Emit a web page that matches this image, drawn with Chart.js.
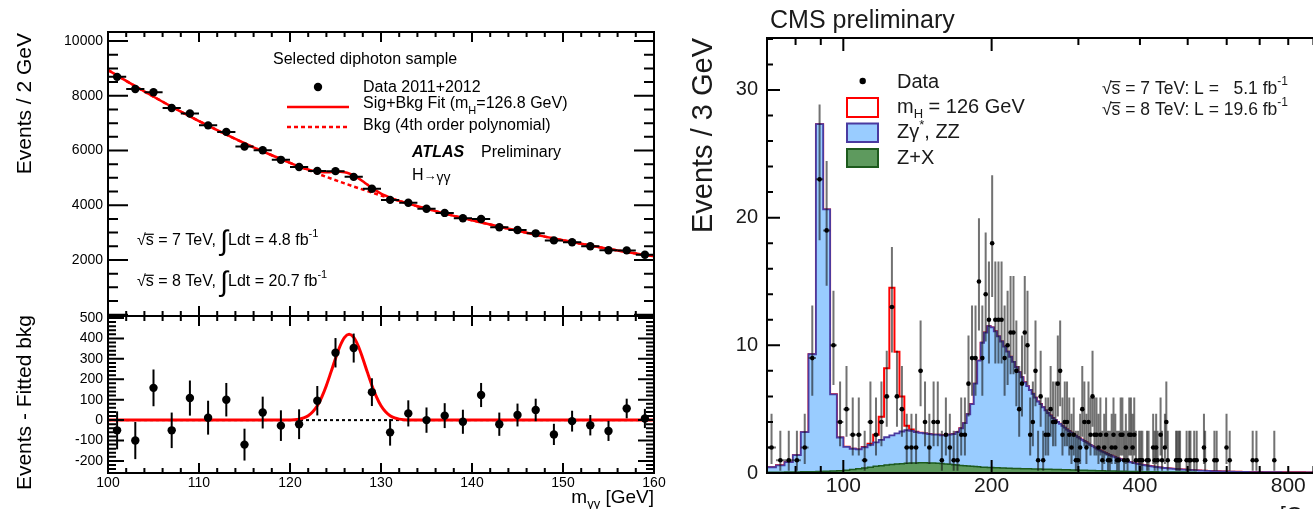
<!DOCTYPE html>
<html>
<head>
<meta charset="utf-8">
<script src="https://cdn.jsdelivr.net/npm/chart.js@4/dist/chart.umd.min.js"></script>
<style>
  html, body { margin: 0; padding: 0; background: #fff; overflow: hidden; width: 1313px; height: 509px; }
  canvas { position: absolute; }
  #atlasTop { left: 0; top: 0; }
  #atlasRes { left: 0; top: 300px; }
  #cms { left: 680px; top: 0; }
</style>
</head>
<body>
<canvas id="atlasTop" width="670" height="340"></canvas>
<canvas id="atlasRes" width="670" height="209"></canvas>
<canvas id="cms" width="680" height="509"></canvas>
<script>
const FONT = '"Liberation Sans", Arial, Helvetica, sans-serif';

// ---------------- ATLAS H -> gamma gamma ----------------
const atlasMassTicks = [100, 110, 120, 130, 140, 150, 160];
const atlasEventTicks = [2000, 4000, 6000, 8000, 10000];
const atlasResidualTicks = [-200, -100, 0, 100, 200, 300, 400, 500];

// 2 GeV bins, centres
const diphotonMass = [101,103,105,107,109,111,113,115,117,119,121,123,125,127,129,131,133,135,137,139,141,143,145,147,149,151,153,155,157,159];
const diphotonEvents = [8690,8248,8126,7550,7354,6918,6680,6148,6007,5659,5396,5255,5246,5037,4601,4196,4093,3874,3720,3524,3497,3198,3093,2974,2716,2649,2503,2355,2351,2194];
const diphotonErrors = [93,91,90,87,86,83,82,78,78,75,73,72,72,71,68,65,64,62,61,59,59,57,56,55,52,51,50,49,48,47];
const residualEvents = [-50,-100,158,-50,108,12,100,-120,37,-27,-20,95,330,353,137,-60,33,0,22,-8,123,-20,25,50,-70,-5,-25,-53,57,8];

// background-only polynomial
const bkgMass = [100,102,104,106,108,110,112,114,116,118,120,122,124,126,128,130,132,134,136,138,140,142,144,146,148,150,152,154,156,158,160];
const bkgEvents = [8940,8542,8156,7782,7421,7074,6741,6422,6117,5826,5549,5286,5036,4798,4572,4358,4156,3965,3784,3613,3451,3295,3142,2995,2854,2719,2590,2466,2350,2239,2134];

// signal + background fit
const fitMass = [100,102,104,106,108,110,112,114,116,118,120,121,121.5,122,122.5,123,123.5,124,124.5,125,125.5,126,126.5,127,127.5,128,128.5,129,129.5,130,130.5,131,131.5,132,134,136,138,140,142,144,146,148,150,152,154,156,158,160];
const fitEvents = [8940,8542,8156,7782,7421,7074,6741,6422,6117,5826,5550,5421,5362,5308,5264,5230,5212,5206,5211,5218,5220,5203,5161,5089,4991,4874,4753,4634,4525,4428,4348,4278,4217,4161,3965,3784,3613,3451,3295,3142,2995,2854,2719,2590,2466,2350,2239,2134];

// fitted signal component (residual panel)
const signalMass = [100,119,119.5,120,120.5,121,121.5,122,122.5,123,123.5,124,124.5,125,125.5,126,126.5,127,127.5,128,128.5,129,129.5,130,130.5,131,131.5,132,132.5,133,133.5,134,160];
const signalEvents = [0,0,0.5,1,2,5,11,22,41,70,114,170,235,302,363,405,420,405,363,302,235,170,114,70,41,22,11,5,2,1,0.5,0,0];

// ---------------- CMS H -> ZZ -> 4l ----------------
const m4lFirstEdge = 70;
const m4lBinWidth = 3;
const m4lTicks = [100, 200, 400, 800];
const m4lMinorTicks = [80, 90, 300, 500, 600, 700, 800, 900, 400];
const cmsEventTicks = [0, 10, 20, 30];

const zzCounts = [
  0.40,0.54,0.78,1.32,3.11,9.2,27.2,20.5,6.0,2.6,
  1.83,1.62,1.51,1.6,1.74,1.88,2.03,2.18,2.29,2.4,
  2.52,2.59,2.52,2.41,2.35,2.3,2.26,2.22,2.24,2.21,
  2.24,2.32,2.4,2.58,2.91,3.34,4.06,4.88,6.5,8.32,
  9.74,10.55,11.06,10.97,10.68,10.29,9.9,9.51,9.12,8.73,
  8.34,7.95,7.55,7.16,6.76,6.47,6.17,5.88,5.58,5.29,
  5.09,4.85,4.6,4.41,4.21,4.02,3.87,3.73,3.58,3.44,
  3.29,3.15,3.03,2.92,2.8,2.69,2.57,2.48,2.38,2.29,
  2.19,2.1,2.0,1.91,1.81,1.74,1.66,1.58,1.51,1.44,
  1.38,1.31,1.25,1.2,1.14,1.08,1.04,0.99,0.94,0.9,
  0.86,0.82,0.79,0.75,0.72,0.69,0.67,0.64,0.61,0.58,
  0.57,0.54,0.52,0.5,0.48,0.47,0.45,0.43,0.41,0.39,
  0.38,0.36,0.36,0.35,0.33,0.32,0.31,0.3,0.29,0.28,
  0.27,0.26,0.26,0.25,0.24,0.23,0.22,0.22,0.21,0.2,
  0.2,0.19,0.18,0.18,0.18,0.18,0.17,0.16,0.16,0.15,
  0.2,0.2,0.19,0.19,0.18,0.18,0.18,0.17,0.17,0.16,
  0.16,0.16,0.15,0.15,0.15,0.14,0.14,0.14,0.13,0.13,
  0.13,0.12,0.12,0.12,0.12,0.11,0.11,0.11,0.11,0.1,
  0.1,0.1,0.1,0.1,0.09,0.09,0.09,0.09,0.09,0.09,
  0.09,0.08,0.08,0.08,0.08,0.08,0.08,0.08,0.07,0.07,
  0.07,0.07,0.07,0.07,0.07,0.07,0.07,0.07,0.07,0.07,
  0.07,0.07,0.07,0.06,0.06,0.06,0.06,0.06,0.06,0.06,
  0.06,0.06,0.06,0.06,0.06,0.06,0.06,0.06,0.06,0.06,
  0.06,0.06,0.06,0.06,0.06,0.05,0.05,0.05,0.05,0.05,
  0.05,0.05,0.05,0.05,0.05,0.05,0.05,0.05,0.05,0.05,
  0.05,0.05,0.05,0.05,0.05,0.05,0.05,0.05,0.05,0.05,
  0.05,0.05,0.05,0.05,0.05,0.04,0.04,0.04,0.04,0.04,
  0.04,0.04,0.04,0.04,0.04,0.04,0.04,0.04,0.04,0.04,
  0.04,0.04,0.04,0.04,0.04,0.04,0.04,0.04,0.04,0.04,
  0.04,0.04,0.04,0.04,0.04,0.04,0.04,0.04,0.04,0.04,
  0.04,0.04,0.04,0.04,0.04,0.04,0.04,0.04,0.04,0.04
];
const zxCounts = [
  0.05,0.06,0.07,0.08,0.09,0.1,0.12,0.14,0.16,0.18,
  0.22,0.28,0.34,0.4,0.46,0.52,0.57,0.62,0.66,0.7,
  0.73,0.76,0.78,0.79,0.8,0.8,0.79,0.78,0.76,0.74,
  0.71,0.68,0.65,0.62,0.59,0.56,0.54,0.52,0.5,0.48,
  0.46,0.45,0.44,0.43,0.42,0.41,0.4,0.39,0.38,0.37,
  0.36,0.35,0.35,0.34,0.34,0.33,0.33,0.32,0.32,0.31,
  0.31,0.3,0.3,0.29,0.29,0.28,0.28,0.27,0.27,0.26,
  0.26,0.25,0.25,0.24,0.24,0.23,0.23,0.22,0.22,0.21,
  0.21,0.2,0.2,0.19,0.19,0.18,0.18,0.18,0.17,0.17,
  0.16,0.16,0.16,0.15,0.15,0.15,0.14,0.14,0.14,0.13,
  0.13,0.13,0.12,0.12,0.12,0.12,0.11,0.11,0.11,0.11,
  0.1,0.1,0.1,0.1,0.1,0.09,0.09,0.09,0.09,0.09,
  0.09,0.09,0.08,0.08,0.08,0.08,0.08,0.08,0.08,0.08,
  0.08,0.08,0.07,0.07,0.07,0.07,0.07,0.07,0.07,0.07,
  0.07,0.07,0.07,0.07,0.06,0.06,0.06,0.06,0.06,0.06
];
const higgsCounts = [0,0,0,0,0,0,0,0,0,0,0,0,0,0.03,0.1,0.6,1.8,5.4,11.55,6.4,2.75,0.35,0.1,0.03];
const dataCounts = [
  2,1,1,1,2,9,23,19,10,4,
  5,3,3,1,4,3,4,6,13,6,
  5,2,2,2,8,4,2,4,4,1,
  3,2,1,1,3,3,7,9,9,15,
  9,14,12,18,12,12,12,9,10,11,
  11,8,5,7,11,10,3,4,8,1,
  6,1,3,3,5,4,4,7,8,3,
  4,4,3,2,3,1,1,2,5,4,
  2,4,3,6,3,3,2,3,1,2,
  3,1,1,2,3,2,1,1,3,3,
  1,2,1,3,3,2,3,1,0,1,
  1,1,0,0,1,1,0,0,2,1,
  2,1,0,3,1,0,2,4,1,0,
  0,0,0,0,1,1,1,1,0,0,
  0,0,1,0,1,1,0,0,1,0,
  1,0,0,0,0,0,2,1,0,0,
  0,0,0,0,0,1,0,1,0,0,
  0,0,0,0,0,0,2,0,0,1,
  0,0,0,0,0,0,0,0,0,0,
  0,0,0,0,0,0,0,0,0,0,
  0,0,1,0,0,0,1,0,0,0,
  0,0,0,0,0,0,0,0,0,0,
  0,0,0,0,0,0,1,0,0,0
];
// 68% central Poisson intervals for the observed counts
const poissonLow  = [0,0.173,0.708,1.367,2.086,2.840,3.620,4.419,5.232,6.057,6.891,7.734,8.585,9.441,10.30,11.17,12.04,12.91,13.79,14.67,15.55,16.44,17.33,18.22];
const poissonHigh = [1.841,3.300,4.638,5.918,7.163,8.382,9.584,10.77,11.95,13.11,14.27,15.42,16.56,17.70,18.83,19.96,21.08,22.20,23.32,24.44,25.55,26.66,27.76,28.87];

// ---------------- helpers ----------------
function fontOf(p, base) {
  return (p.style || 'normal') + ' ' + (p.weight || 'normal') + ' ' + (p.size || base) + 'px ' + (p.family || FONT);
}
function drawRich(ctx, x, y, parts, opt) {
  opt = opt || {};
  const base = opt.size || 16;
  const color = opt.color || '#000';
  parts = parts.map(p => typeof p === 'string' ? { t: p } : p);
  let total = 0;
  for (const p of parts) { ctx.font = fontOf(p, base); total += ctx.measureText(p.t).width + (p.gap || 0); }
  let cx = opt.align === 'right' ? x - total : x;
  ctx.save();
  ctx.textAlign = 'left';
  ctx.textBaseline = 'middle';
  ctx.fillStyle = color;
  ctx.strokeStyle = color;
  for (const p of parts) {
    ctx.font = fontOf(p, base);
    const w = ctx.measureText(p.t).width;
    ctx.fillText(p.t, cx, y + (p.dy || 0));
    if (p.over) {
      const s = p.size || base;
      ctx.lineWidth = 1.2;
      ctx.beginPath();
      ctx.moveTo(cx - 1, y - s * 0.42);
      ctx.lineTo(cx + w, y - s * 0.42);
      ctx.stroke();
    }
    cx += w + (p.gap || 0);
  }
  ctx.restore();
}
function drawVertical(ctx, x, yEnd, text, size, color) {
  ctx.save();
  ctx.translate(x, yEnd);
  ctx.rotate(-Math.PI / 2);
  ctx.font = 'normal normal ' + size + 'px ' + FONT;
  ctx.fillStyle = color || '#000';
  ctx.textAlign = 'right';
  ctx.textBaseline = 'middle';
  ctx.fillText(text, 0, 0);
  ctx.restore();
}
function tickFramePlugin(spec) {
  return {
    id: 'tickFrame',
    afterDraw(chart) {
      const { ctx, chartArea: a } = chart;
      const sx = chart.scales.x, sy = chart.scales.y;
      ctx.save();
      ctx.strokeStyle = '#000';
      ctx.lineWidth = spec.frameWidth;
      ctx.strokeRect(a.left, a.top, a.right - a.left, a.bottom - a.top);
      ctx.lineWidth = spec.tickWidth;
      ctx.beginPath();
      for (const [v, len] of spec.xTicks) {
        const p = sx.getPixelForValue(v);
        if (p < a.left - 0.5 || p > a.right + 0.5) continue;
        ctx.moveTo(p, a.bottom); ctx.lineTo(p, a.bottom - len);
        ctx.moveTo(p, a.top); ctx.lineTo(p, a.top + len);
      }
      for (const [v, len] of spec.yTicks) {
        const p = sy.getPixelForValue(v);
        if (p < a.top - 0.5 || p > a.bottom + 0.5) continue;
        ctx.moveTo(a.left, p); ctx.lineTo(a.left + len, p);
        ctx.moveTo(a.right, p); ctx.lineTo(a.right - len, p);
      }
      ctx.stroke();
      ctx.restore();
    }
  };
}
function errorBarPlugin(datasetIndex, bars, style) {
  return {
    id: 'errorBars',
    beforeDatasetDraw(chart, args) {
      if (args.index !== datasetIndex) return;
      const { ctx, chartArea: a } = chart;
      const sx = chart.scales.x, sy = chart.scales.y;
      ctx.save();
      ctx.beginPath();
      ctx.rect(a.left, a.top, a.right - a.left, a.bottom - a.top);
      ctx.clip();
      ctx.strokeStyle = style.color;
      ctx.lineWidth = style.width;
      for (const b of bars) {
        const px = sx.getPixelForValue(b.x);
        const py = sy.getPixelForValue(b.y);
        ctx.beginPath();
        if (b.yLo !== undefined) {
          ctx.moveTo(px, sy.getPixelForValue(b.yLo));
          ctx.lineTo(px, sy.getPixelForValue(b.yHi));
        }
        if (b.xLo !== undefined) {
          ctx.moveTo(sx.getPixelForValue(b.xLo), py);
          ctx.lineTo(sx.getPixelForValue(b.xHi), py);
        }
        ctx.stroke();
      }
      ctx.restore();
    }
  };
}
function pairs(xs, ys) { return xs.map((x, i) => ({ x: x, y: ys[i] })); }
function plainTicks(list) { return s => { s.ticks = list.map(v => ({ value: v })); }; }

// tick-mark lists (inside the frame)
const atlasXMarks = [];
for (let v = 100; v <= 160; v += 2) atlasXMarks.push([v, v % 10 === 0 ? 10 : 5]);
const atlasYMarks = [];
for (let v = 0; v <= 10000; v += 500) atlasYMarks.push([v, v % 2000 === 0 ? 20 : 10]);
const atlasResMarks = [];
for (let v = -240; v <= 500; v += 20) atlasResMarks.push([v, v % 100 === 0 ? 16 : 8]);
const cmsXMarks = m4lMinorTicks.map(v => [v, 7]).concat([[100, 13], [200, 13]]);
const cmsYMarks = [];
for (let v = 0; v <= 34; v += 2) cmsYMarks.push([v, v % 10 === 0 ? 13 : 6]);

const commonOpts = {
  responsive: false,
  animation: false,
  devicePixelRatio: 1,
  plugins: { legend: { display: false }, tooltip: { enabled: false } }
};

// ---------------- ATLAS upper panel ----------------
const atlasTopText = {
  id: 'atlasTopText',
  afterDraw(chart) {
    const ctx = chart.ctx;
    drawVertical(ctx, 25, 33, 'Events / 2 GeV', 21, '#000');
    drawRich(ctx, 273, 60, ['Selected diphoton sample'], { size: 16 });
    ctx.save();
    ctx.fillStyle = '#000';
    ctx.beginPath(); ctx.arc(318, 87, 4.2, 0, Math.PI * 2); ctx.fill();
    ctx.strokeStyle = '#ff0000'; ctx.lineWidth = 2.5;
    ctx.beginPath(); ctx.moveTo(287, 107); ctx.lineTo(349, 107); ctx.stroke();
    ctx.setLineDash([4, 3]);
    ctx.beginPath(); ctx.moveTo(287, 127); ctx.lineTo(349, 127); ctx.stroke();
    ctx.restore();
    drawRich(ctx, 363, 88, ['Data 2011+2012'], { size: 16 });
    drawRich(ctx, 363, 104, ['Sig+Bkg Fit (m', { t: 'H', size: 11, dy: 7 }, '=126.8 GeV)'], { size: 16 });
    drawRich(ctx, 363, 126, ['Bkg (4th order polynomial)'], { size: 16 });
    drawRich(ctx, 412, 153, [{ t: 'ATLAS', style: 'italic', weight: 'bold' }], { size: 16 });
    drawRich(ctx, 481, 153, ['Preliminary'], { size: 16 });
    drawRich(ctx, 412, 176, ['H', { t: '\u2192', size: 13 }, { t: '\u03b3\u03b3', size: 14, dy: 2 }], { size: 16 });
    drawRich(ctx, 137, 241, ['\u221a', { t: 's', over: true }, ' = 7 TeV, ', { t: '\u222b', size: 28, dy: 1 }, 'Ldt = 4.8 fb', { t: '-1', size: 11, dy: -7 }], { size: 16 });
    drawRich(ctx, 137, 282, ['\u221a', { t: 's', over: true }, ' = 8 TeV, ', { t: '\u222b', size: 28, dy: 1 }, 'Ldt = 20.7 fb', { t: '-1', size: 11, dy: -7 }], { size: 16 });
  }
};

new Chart(document.getElementById('atlasTop'), {
  type: 'scatter',
  data: {
    datasets: [
      { type: 'line', label: 'Bkg (4th order polynomial)', data: pairs(bkgMass, bkgEvents),
        borderColor: '#ff0000', borderWidth: 2.5, borderDash: [4, 3], pointRadius: 0,
        cubicInterpolationMode: 'monotone', order: 2 },
      { type: 'line', label: 'Sig+Bkg Fit', data: pairs(fitMass, fitEvents),
        borderColor: '#ff0000', borderWidth: 2.5, pointRadius: 0,
        cubicInterpolationMode: 'monotone', order: 1 },
      { type: 'scatter', label: 'Data 2011+2012', data: pairs(diphotonMass, diphotonEvents),
        pointRadius: 4.2, pointBackgroundColor: '#000', pointBorderWidth: 0, order: 0 }
    ]
  },
  options: Object.assign({}, commonOpts, {
    layout: { padding: { left: 0, right: 16, top: 32, bottom: 24 } },
    scales: {
      x: { type: 'linear', min: 100, max: 160, display: false },
      y: { type: 'linear', min: -46, max: 10329, position: 'left',
           afterFit(s) { s.width = 108; },
           afterBuildTicks: plainTicks(atlasEventTicks),
           grid: { display: false, drawTicks: false }, border: { display: false },
           ticks: { font: { family: FONT, size: 14 }, color: '#000', padding: 5, callback: v => String(v) } }
    }
  }),
  plugins: [
    errorBarPlugin(2, diphotonMass.map((m, i) => ({ x: m, y: diphotonEvents[i], xLo: m - 1, xHi: m + 1,
      yLo: diphotonEvents[i] - diphotonErrors[i], yHi: diphotonEvents[i] + diphotonErrors[i] })), { color: '#000', width: 2 }),
    tickFramePlugin({ frameWidth: 2, tickWidth: 2, xTicks: atlasXMarks, yTicks: atlasYMarks }),
    atlasTopText
  ]
});

// ---------------- ATLAS residual panel ----------------
const atlasResText = {
  id: 'atlasResText',
  afterDraw(chart) {
    const ctx = chart.ctx;
    drawVertical(ctx, 25, 15, 'Events - Fitted bkg', 21, '#000');
    drawRich(ctx, 654, 198, ['m', { t: '\u03b3\u03b3', size: 13, dy: 6 }, ' [GeV]'], { size: 19, align: 'right' });
  }
};

new Chart(document.getElementById('atlasRes'), {
  type: 'scatter',
  data: {
    datasets: [
      { type: 'line', label: 'Bkg', data: [{ x: 100, y: 0 }, { x: 160, y: 0 }],
        borderColor: '#000', borderWidth: 2, borderDash: [3, 3], pointRadius: 0, order: 2 },
      { type: 'line', label: 'Sig+Bkg Fit', data: pairs(signalMass, signalEvents),
        borderColor: '#ff0000', borderWidth: 3, pointRadius: 0,
        cubicInterpolationMode: 'monotone', order: 1 },
      { type: 'scatter', label: 'Data - Bkg', data: pairs(diphotonMass, residualEvents),
        pointRadius: 4.2, pointBackgroundColor: '#000', pointBorderWidth: 0, order: 0 }
    ]
  },
  options: Object.assign({}, commonOpts, {
    layout: { padding: { left: 0, right: 16, top: 16, bottom: 0 } },
    scales: {
      x: { type: 'linear', min: 100, max: 160, position: 'bottom',
           afterFit(s) { s.height = 36; },
           afterBuildTicks: plainTicks(atlasMassTicks),
           grid: { display: false, drawTicks: false }, border: { display: false },
           ticks: { font: { family: FONT, size: 14 }, color: '#000', padding: 2, maxRotation: 0, autoSkip: false, callback: v => String(v) } },
      y: { type: 'linear', min: -259, max: 510, position: 'left',
           afterFit(s) { s.width = 108; },
           afterBuildTicks: plainTicks(atlasResidualTicks),
           grid: { display: false, drawTicks: false }, border: { display: false },
           ticks: { font: { family: FONT, size: 14 }, color: '#000', padding: 5, callback: v => String(v) } }
    }
  }),
  plugins: [
    errorBarPlugin(2, diphotonMass.map((m, i) => ({ x: m, y: residualEvents[i],
      yLo: residualEvents[i] - diphotonErrors[i], yHi: residualEvents[i] + diphotonErrors[i] })), { color: '#000', width: 2 }),
    tickFramePlugin({ frameWidth: 2, tickWidth: 2, xTicks: atlasXMarks, yTicks: atlasResMarks }),
    atlasResText
  ]
});

// ---------------- CMS four-lepton mass ----------------
const nBins = zzCounts.length;
const stackZX = [], stackZZ = [], stackTotal = [];
for (let i = 0; i < nBins; i++) {
  const zx = zxCounts[i] || 0;
  const zz = zx + zzCounts[i];
  stackZX.push(zx);
  stackZZ.push(zz);
  stackTotal.push(zz + (higgsCounts[i] || 0));
}
function histPoints(values) {
  const pts = values.map((v, i) => ({ x: m4lFirstEdge + i * m4lBinWidth, y: v }));
  pts.push({ x: m4lFirstEdge + values.length * m4lBinWidth, y: values[values.length - 1] });
  return pts;
}
const cmsData = [], cmsBars = [];
dataCounts.forEach((n, i) => {
  if (n <= 0) return;
  const lo = m4lFirstEdge + i * m4lBinWidth;
  const c = lo + m4lBinWidth / 2;
  cmsData.push({ x: c, y: n });
  cmsBars.push({ x: c, y: n, xLo: lo, xHi: lo + m4lBinWidth, yLo: poissonLow[n], yHi: poissonHigh[n] });
});

const cmsText = {
  id: 'cmsText',
  afterDraw(chart) {
    const ctx = chart.ctx;
    const ink = '#1a1a1a';
    drawRich(ctx, 90, 21, ['CMS preliminary'], { size: 25, color: ink });
    drawVertical(ctx, 24, 38, 'Events / 3 GeV', 29, ink);
    // legend
    ctx.save();
    ctx.fillStyle = '#000';
    ctx.beginPath(); ctx.arc(182.7, 81, 3.2, 0, Math.PI * 2); ctx.fill();
    ctx.lineWidth = 2;
    ctx.fillStyle = '#fff'; ctx.strokeStyle = '#ff0000';
    ctx.fillRect(167, 98, 31, 19); ctx.strokeRect(167, 98, 31, 19);
    ctx.fillStyle = '#99ccff'; ctx.strokeStyle = '#4a3aa0';
    ctx.fillRect(167, 123.5, 31, 18.5); ctx.strokeRect(167, 123.5, 31, 18.5);
    ctx.fillStyle = '#5e9a5e'; ctx.strokeStyle = '#1d5a1d';
    ctx.fillRect(167, 149, 31, 18); ctx.strokeRect(167, 149, 31, 18);
    ctx.restore();
    drawRich(ctx, 217, 82, ['Data'], { size: 20, color: ink });
    drawRich(ctx, 217, 107, ['m', { t: 'H', size: 13, dy: 7 }, ' = 126 GeV'], { size: 20, color: ink });
    drawRich(ctx, 217, 132.5, ['Z\u03b3', { t: '*', size: 13, dy: -7 }, ', ZZ'], { size: 20, color: ink });
    drawRich(ctx, 217, 158, ['Z+X'], { size: 20, color: ink });
    drawRich(ctx, 422, 89, ['\u221a', { t: 's', over: true }, ' = 7 TeV: L =   5.1 fb', { t: '-1', size: 12, dy: -7 }], { size: 17.5, color: ink });
    drawRich(ctx, 422, 110, ['\u221a', { t: 's', over: true }, ' = 8 TeV: L = 19.6 fb', { t: '-1', size: 12, dy: -7 }], { size: 17.5, color: ink });
    drawRich(ctx, 656, 516, ['m', { t: '4l', size: 15, dy: 6 }, ' [GeV]'], { size: 22, color: ink, align: 'right' });
  }
};

new Chart(document.getElementById('cms'), {
  type: 'scatter',
  data: {
    datasets: [
      { type: 'line', label: 'mH = 126 GeV', data: histPoints(stackTotal), stepped: 'before',
        borderColor: '#ff0000', borderWidth: 2, pointRadius: 0, fill: false, order: 4 },
      { type: 'line', label: 'Zgamma*, ZZ', data: histPoints(stackZZ), stepped: 'before',
        borderColor: '#4a3aa0', borderWidth: 1.8, backgroundColor: '#99ccff', pointRadius: 0, fill: 'origin', order: 3 },
      { type: 'line', label: 'Z+X', data: histPoints(stackZX), stepped: 'before',
        borderColor: '#1d5a1d', borderWidth: 1.5, backgroundColor: '#5e9a5e', pointRadius: 0, fill: 'origin', order: 2 },
      { type: 'scatter', label: 'Data', data: cmsData,
        pointRadius: 2.3, pointBackgroundColor: '#000', pointBorderWidth: 0, order: 1 }
    ]
  },
  options: Object.assign({}, commonOpts, {
    layout: { padding: { left: 0, right: 24, top: 38, bottom: 0 } },
    scales: {
      x: { type: 'logarithmic', min: 70, max: 1000, position: 'bottom',
           afterFit(s) { s.height = 36; },
           afterBuildTicks: plainTicks(m4lTicks),
           grid: { display: false, drawTicks: false }, border: { display: false },
           ticks: { font: { family: FONT, size: 21 }, color: '#1a1a1a', padding: 1, maxRotation: 0, autoSkip: false, callback: v => String(v) } },
      y: { type: 'linear', min: 0, max: 34.07, position: 'left',
           afterFit(s) { s.width = 87; },
           afterBuildTicks: plainTicks(cmsEventTicks),
           grid: { display: false, drawTicks: false }, border: { display: false },
           ticks: { font: { family: FONT, size: 20 }, color: '#1a1a1a', padding: 9, callback: v => String(v) } }
    }
  }),
  plugins: [
    errorBarPlugin(3, cmsBars, { color: 'rgba(20,20,20,0.6)', width: 2 }),
    tickFramePlugin({ frameWidth: 2, tickWidth: 2, xTicks: cmsXMarks, yTicks: cmsYMarks }),
    cmsText
  ]
});
</script>
</body>
</html>
